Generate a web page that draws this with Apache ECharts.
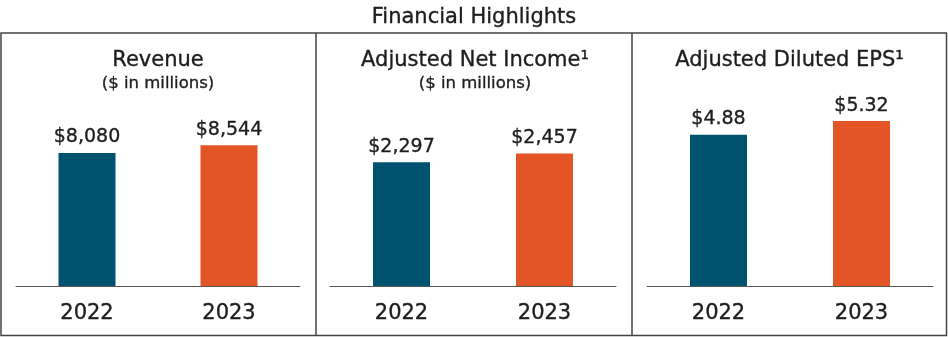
<!DOCTYPE html>
<html>
<head>
<meta charset="utf-8">
<title>Financial Highlights</title>
<script src="https://cdn.jsdelivr.net/npm/echarts@6/dist/echarts.min.js"></script>
<style>
  html, body { margin: 0; padding: 0; background: #ffffff; }
  #chart { width: 948px; height: 337px; }
</style>
</head>
<body>
<div id="chart"></div>
<script>
// Years shown on every panel
const years = ['2022', '2023'];

// Panel values
const revenue = [8080, 8544];          // $ in millions
const netIncome = [2297, 2457];        // $ in millions
const dilutedEps = [4.88, 5.32];       // $ per share

// Panel headings
const panelTitles = ['Revenue', 'Adjusted Net Income\u00B9', 'Adjusted Diluted EPS\u00B9'];
const panelSubtitles = ['($ in millions)', '($ in millions)', ''];

const TEAL = '#00536f';
const ORANGE = '#e35526';
const TEXT = '#1f1c1d';
const FONT = '"DejaVu Sans", sans-serif';
const barColors = [TEAL, ORANGE];

// slight stroke gives the text a medium weight
const heavier = { textBorderColor: TEXT, textBorderWidth: 0.35 };

const fmtMoney = v => '$' + v.toLocaleString('en-US');
const fmtEps = v => '$' + v.toFixed(2);

const panels = [
  { values: revenue, fmt: fmtMoney, max: 11300, left: 16, right: 648, center: 158 },
  { values: netIncome, fmt: fmtMoney, max: 3450, left: 330, right: 332, center: 475 },
  { values: dilutedEps, fmt: fmtEps, max: 6, left: 647, right: 15, center: 789.5 }
];

const chart = echarts.init(document.getElementById('chart'), null, { renderer: 'canvas' });

const option = {
  backgroundColor: '#ffffff',
  animation: false,
  title: [
    {
      text: 'Financial Highlights',
      left: 474, top: 7, textAlign: 'center', padding: 0,
      textStyle: Object.assign({ fontFamily: FONT, fontSize: 21, fontWeight: 'normal', color: TEXT, lineHeight: 22 }, heavier)
    }
  ].concat(panels.map((p, i) => ({
    text: panelTitles[i],
    subtext: panelSubtitles[i],
    left: p.center, top: 50, textAlign: 'center', padding: 0, itemGap: 3,
    textStyle: Object.assign({ fontFamily: FONT, fontSize: 21, fontWeight: 'normal', color: TEXT, lineHeight: 22 }, heavier),
    subtextStyle: Object.assign({ fontFamily: FONT, fontSize: 16.5, color: TEXT, lineHeight: 18 }, heavier)
  }))),
  grid: panels.map(p => ({ left: p.left, right: p.right, top: 100, bottom: 51 })),
  xAxis: panels.map((p, i) => ({
    type: 'category',
    gridIndex: i,
    data: years,
    axisTick: { show: false },
    axisLine: { lineStyle: { color: '#555555', width: 1 } },
    axisLabel: Object.assign({ fontFamily: FONT, fontSize: 21, color: TEXT, margin: 17 }, heavier)
  })),
  yAxis: panels.map((p, i) => ({
    type: 'value',
    gridIndex: i,
    min: 0,
    max: p.max,
    show: false,
    splitLine: { show: false }
  })),
  series: panels.map((p, i) => ({
    type: 'bar',
    xAxisIndex: i,
    yAxisIndex: i,
    barWidth: 57,
    data: p.values.map((v, j) => ({ value: v, itemStyle: { color: barColors[j] } })),
    label: Object.assign({
      show: true,
      position: 'top',
      distance: 6,
      fontFamily: FONT,
      fontSize: 19,
      color: TEXT,
      formatter: params => p.fmt(params.value)
    }, heavier)
  })),
  graphic: [
    {
      type: 'rect',
      shape: { x: 1, y: 33, width: 945.5, height: 302.5 },
      style: { fill: 'none', stroke: '#444444', lineWidth: 1.5 },
      silent: true
    },
    {
      type: 'line',
      shape: { x1: 316, y1: 33, x2: 316, y2: 336 },
      style: { stroke: '#444444', lineWidth: 1.5 },
      silent: true
    },
    {
      type: 'line',
      shape: { x1: 632, y1: 33, x2: 632, y2: 336 },
      style: { stroke: '#444444', lineWidth: 1.5 },
      silent: true
    }
  ]
};

chart.setOption(option);
</script>
</body>
</html>
